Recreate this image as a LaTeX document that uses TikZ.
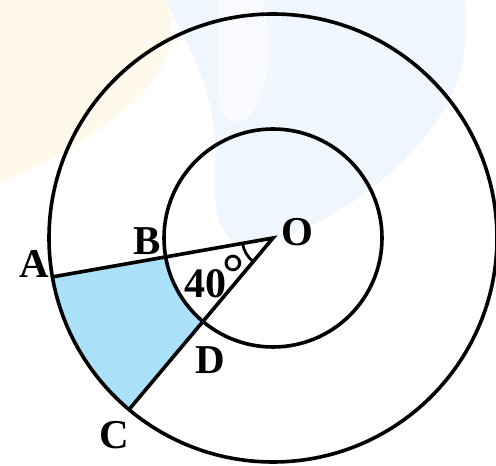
\documentclass[tikz,border=0pt]{standalone}
\usepackage{fontspec}
\usepackage{graphicx}
\setmainfont{Liberation Serif}
\definecolor{shadeblue}{RGB}{170,224,248}
\definecolor{wmcream}{RGB}{255,249,236}
\definecolor{wmblue}{RGB}{240,246,253}
\definecolor{wmpale}{RGB}{248,250,254}
\begin{document}
\begin{tikzpicture}[x=1pt,y=1pt,line width=3.6pt,
  lbl/.style={font=\fontsize{41}{41}\selectfont\bfseries,inner sep=0pt},
  region/.style={fill=shadeblue,draw=none},
  anglemark/.style={line width=2.8pt}]
\useasboundingbox (0,0) rectangle (496,466);
% faint watermark
\fill[wmcream] (0,466) -- (168,466) .. controls (178,420) and (160,390) .. (140,370)
  .. controls (100,330) and (40,300) .. (0,283) -- cycle;
\fill[wmblue] (165,466) -- (465,466) .. controls (470,420) and (460,380) .. (440,350)
  .. controls (400,290) and (330,240) .. (260,222) .. controls (225,215) and (212,240) .. (215,300)
  .. controls (218,360) and (200,400) .. (165,466) -- cycle;
\fill[wmpale] (218,466) -- (262,466) .. controls (275,420) and (270,380) .. (250,350)
  .. controls (225,330) and (215,360) .. (218,400) -- cycle;
% geometry
\coordinate (O) at (273,228);
\path (O) ++(190:224) coordinate (A);
\path (O) ++(190:109) coordinate (B);
\path (O) ++(230:224) coordinate (C);
\path (O) ++(230:109) coordinate (D);
\fill[region] (A) arc[start angle=190,end angle=230,radius=224] -- (D)
  arc[start angle=230,end angle=190,radius=109] -- cycle;
\draw (O) circle[radius=224];
\draw (O) circle[radius=109];
\draw (A) -- (O) -- (C);
\draw[anglemark] (O) ++(190:31) arc[start angle=190,end angle=230,radius=31];
% labels
\node[lbl] (la) at (34,202) {A};
\node[lbl] (lb) at (147,225) {B};
\node[lbl] (lo) at (297,234) {O};
\node[lbl] (ld) at (210,106) {D};
\node[lbl] (lc) at (114,31) {C};
\node[lbl,font=\fontsize{42}{42}\selectfont\bfseries] (lang) at (214,189) {40\kern-4pt\raisebox{6pt}{\scalebox{1.3}{°}}};
\end{tikzpicture}
\end{document}
